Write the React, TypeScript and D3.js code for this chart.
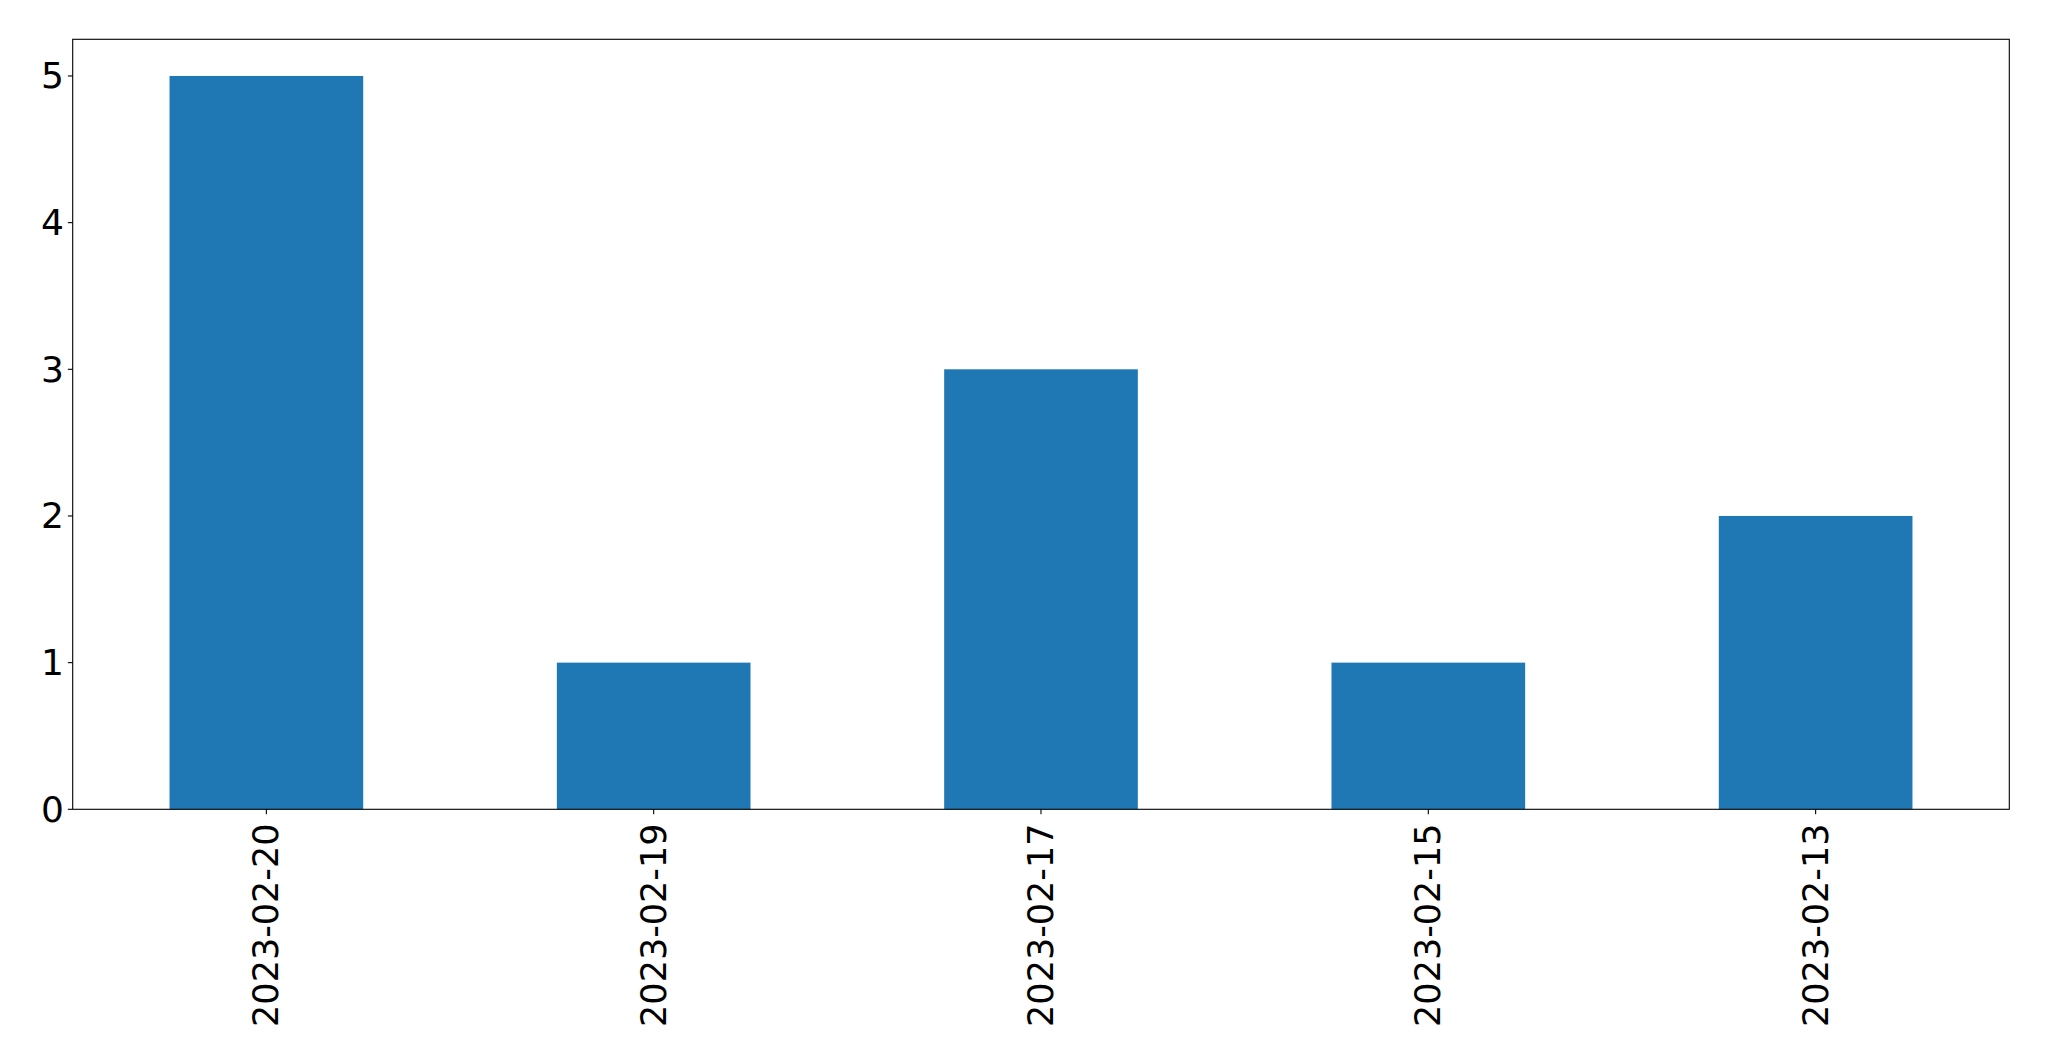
import React from "react";
import * as d3 from "d3";

const categories = ["2023-02-20", "2023-02-19", "2023-02-17", "2023-02-15", "2023-02-13"];
const values = [5, 1, 3, 1, 2];
const yTicks = [0, 1, 2, 3, 4, 5];

export default function App() {
  const W = 2049, H = 1061;
  const left = 72.7, right = 2009.3, top = 39.3, bottom = 809.3;
  const x = d3.scaleLinear().domain([-0.5, categories.length - 0.5]).range([left, right]);
  const y = d3.scaleLinear().domain([0, 5.25]).range([bottom, top]);
  const bw = x(0.25) - x(0);
  const fs = 35;
  const yfs = 36;
  const tick = 4.86;
  return (
    <svg width={W} height={H} style={{ position: "absolute", left: 0, top: 0, background: "#fff" }}
      fontFamily="DejaVu Sans" >
      <rect x={0} y={0} width={W} height={H} fill="#fff" />
      {values.map((v, i) => (
        <rect key={i} x={x(i) - bw} y={y(v)} width={bw * 2} height={y(0) - y(v)} fill="#1f77b4" />
      ))}
      <rect x={left} y={top} width={right - left} height={bottom - top} fill="none" stroke="#000" strokeWidth={1.1} />
      {yTicks.map((t) => (
        <g key={t}>
          <line x1={left - tick} x2={left} y1={y(t)} y2={y(t)} stroke="#000" strokeWidth={1.1} />
          <text x={left - tick - 4} y={y(t)} textAnchor="end" dominantBaseline="central" fontSize={yfs} fill="#000">{t}</text>
        </g>
      ))}
      {categories.map((c, i) => (
        <g key={c}>
          <line x1={x(i)} x2={x(i)} y1={bottom} y2={bottom + tick} stroke="#000" strokeWidth={1.1} />
          <text transform={`translate(${x(i)},${bottom + 14.2}) rotate(-90)`} textAnchor="end" dominantBaseline="central" fontSize={fs} fill="#000">{c}</text>
        </g>
      ))}
    </svg>
  );
}
